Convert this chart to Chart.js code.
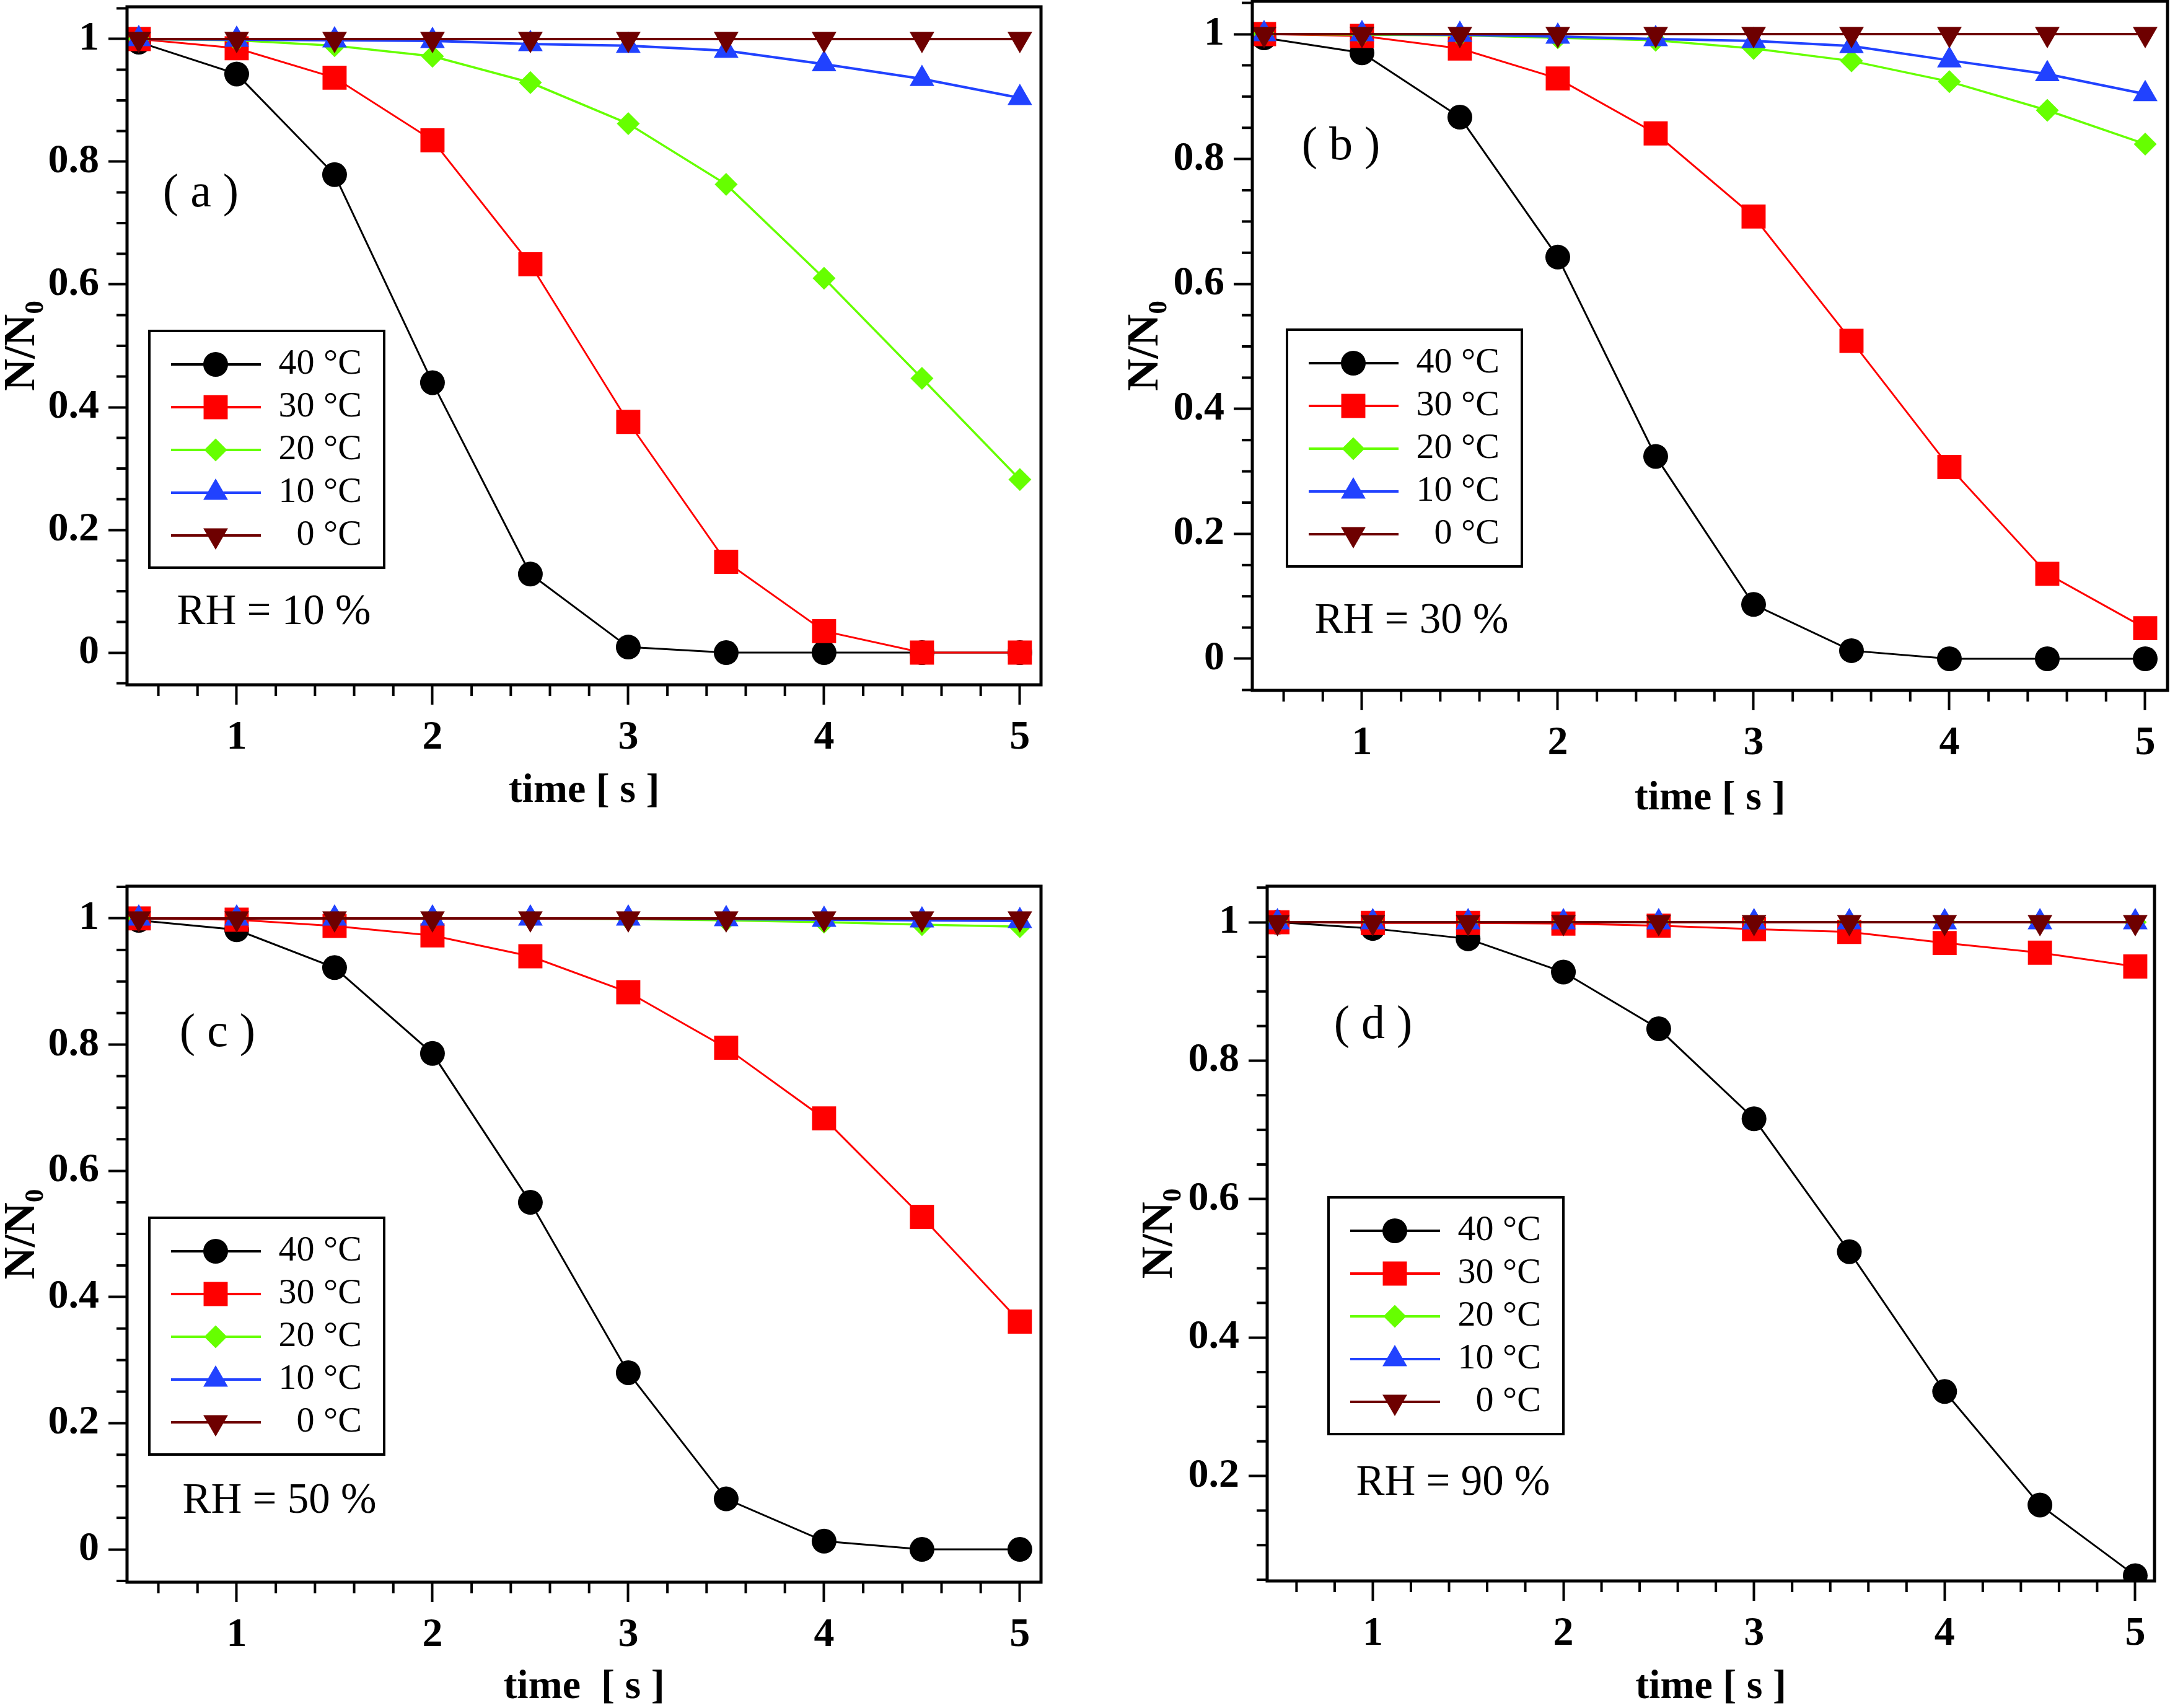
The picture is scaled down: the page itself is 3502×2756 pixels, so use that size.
<!DOCTYPE html>
<html>
<head>
<meta charset="utf-8">
<title>N/N0 vs time</title>
<script src="https://cdn.jsdelivr.net/npm/chart.js@4.4.1/dist/chart.umd.min.js"></script>
<style>
  html, body { margin: 0; padding: 0; background: #fff; }
  body { position: relative; width: 3502px; height: 2756px; overflow: hidden; }
  .panel { position: absolute; }
</style>
</head>
<body>
<div class="panel" style="left:0;top:0;width:1750px;height:1360px"><canvas id="chartA"></canvas></div>
<div class="panel" style="left:1750px;top:0;width:1752px;height:1360px"><canvas id="chartB"></canvas></div>
<div class="panel" style="left:0;top:1380px;width:1750px;height:1376px"><canvas id="chartC"></canvas></div>
<div class="panel" style="left:1750px;top:1380px;width:1752px;height:1376px"><canvas id="chartD"></canvas></div>
<script>
// DATA
const times = [0.5, 1, 1.5, 2, 2.5, 3, 3.5, 4, 4.5, 5];
const seriesLabels = ['40 °C', '30 °C', '20 °C', '10 °C', '0 °C'];
const xTickValues = [1, 2, 3, 4, 5];
const yTickValues = [0, 0.2, 0.4, 0.6, 0.8, 1];
const yTickValuesD = [0.2, 0.4, 0.6, 0.8, 1];

// RH = 10 %
const rh10_t40 = [0.995, 0.943, 0.779, 0.440, 0.128, 0.009, 0, 0, 0, 0];
const rh10_t30 = [1.0, 0.985, 0.937, 0.835, 0.633, 0.376, 0.148, 0.035, 0, 0];
const rh10_t20 = [1.0, 0.998, 0.989, 0.972, 0.929, 0.862, 0.763, 0.610, 0.447, 0.282];
const rh10_t10 = [1.0, 0.999, 0.998, 0.997, 0.992, 0.989, 0.981, 0.959, 0.935, 0.904];
const rh10_t0 = [1, 1, 1, 1, 1, 1, 1, 1, 1, 1];

// RH = 30 %
const rh30_t40 = [0.994, 0.970, 0.867, 0.643, 0.324, 0.087, 0.013, 0, 0, 0];
const rh30_t30 = [1.0, 0.997, 0.977, 0.929, 0.841, 0.708, 0.509, 0.307, 0.136, 0.049];
const rh30_t20 = [1.0, 0.999, 0.998, 0.994, 0.990, 0.977, 0.957, 0.924, 0.878, 0.824];
const rh30_t10 = [1.0, 1.0, 0.999, 0.996, 0.992, 0.989, 0.981, 0.958, 0.936, 0.904];
const rh30_t0 = [1, 1, 1, 1, 1, 1, 1, 1, 1, 1];

// RH = 50 %
const rh50_t40 = [0.997, 0.982, 0.922, 0.786, 0.550, 0.280, 0.080, 0.013, 0, 0];
const rh50_t30 = [1.0, 0.998, 0.988, 0.973, 0.940, 0.883, 0.795, 0.683, 0.527, 0.361];
const rh50_t20 = [1.0, 1.0, 1.0, 1.0, 1.0, 0.999, 0.997, 0.994, 0.990, 0.987];
const rh50_t10 = [1.0, 1.0, 1.0, 1.0, 1.0, 1.0, 0.999, 0.998, 0.997, 0.996];
const rh50_t0 = [1, 1, 1, 1, 1, 1, 1, 1, 1, 1];

// RH = 90 %
const rh90_t40 = [1.0, 0.991, 0.976, 0.928, 0.846, 0.716, 0.524, 0.322, 0.158, 0.056];
const rh90_t30 = [1.0, 0.999, 0.999, 0.998, 0.995, 0.990, 0.986, 0.970, 0.956, 0.936];
const rh90_t20 = [1, 1, 1, 1, 1, 1, 1, 1, 1, 1];
const rh90_t10 = [1, 1, 1, 1, 1, 1, 1, 1, 1, 1];
const rh90_t0 = [1, 1, 1, 1, 1, 1, 1, 1, 1, 1];

Chart.defaults.font.family = "'Liberation Serif', 'Times New Roman', serif";
Chart.defaults.color = '#000';

const seriesStyles = [
    { color: '#000000', pointStyle: 'circle', radius: 20, rotation: 0, lineWidth: 3 },
    { color: '#ff0000', pointStyle: 'rect', radius: 27.5, rotation: 0, lineWidth: 3 },
    { color: '#66ff00', pointStyle: 'rectRot', radius: 18.5, rotation: 0, lineWidth: 3.5 },
    { color: '#2142ff', pointStyle: 'triangle', radius: 23, rotation: 0, lineWidth: 4 },
    { color: '#6e0000', pointStyle: 'triangle', radius: 23, rotation: 180, lineWidth: 4 }
];

// LAYOUT PER PANEL
const panels = [
    { canvas: 'chartA', padTop: 11, padRight: 70, yAxisW: 205, xAxisH: 255,
      xMin: 0.44, xMax: 5.108, yMin: -0.0525, yMax: 1.0525, yTicks: yTickValues,
      series: [rh10_t40, rh10_t30, rh10_t20, rh10_t10, rh10_t0],
      tag: '( a )', rh: 'RH = 10 %', xTitle: 'time [ s ]', xTitlePad: 50, yTitlePad: 0,
      legendAt: [36, 523], tagAt: [119, 302], rhAt: [237, 978] },
    { canvas: 'chartB', padTop: 2, padRight: 4, yAxisW: 271, xAxisH: 246,
      xMin: 0.44, xMax: 5.114, yMin: -0.0506, yMax: 1.0526, yTicks: yTickValues,
      series: [rh30_t40, rh30_t30, rh30_t20, rh30_t10, rh30_t0],
      tag: '( b )', rh: 'RH = 30 %', xTitle: 'time [ s ]', xTitlePad: 38, yTitlePad: 63,
      legendAt: [56, 530], tagAt: [143, 235], rhAt: [257, 1001] },
    { canvas: 'chartC', padTop: 50, padRight: 70, yAxisW: 205, xAxisH: 203,
      xMin: 0.44, xMax: 5.108, yMin: -0.052, yMax: 1.051, yTicks: yTickValues,
      series: [rh50_t40, rh50_t30, rh50_t20, rh50_t10, rh50_t0],
      tag: '( c )', rh: 'RH = 50 %', xTitle: 'time  [ s ]', xTitlePad: 0, yTitlePad: 0,
      legendAt: [36, 535], tagAt: [146, 238], rhAt: [246, 993] },
    { canvas: 'chartD', padTop: 50, padRight: 25, yAxisW: 295, xAxisH: 205,
      xMin: 0.446, xMax: 5.101, yMin: 0.0483, yMax: 1.052, yTicks: yTickValuesD,
      series: [rh90_t40, rh90_t30, rh90_t20, rh90_t10, rh90_t0],
      tag: '( d )', rh: 'RH = 90 %', xTitle: 'time [ s ]', xTitlePad: 0, yTitlePad: 86,
      legendAt: [99, 502], tagAt: [171, 225], rhAt: [300, 964] }
];

function drawMarker(ctx, st, x, y) {
    ctx.fillStyle = st.color;
    Chart.helpers.drawPoint(ctx, {
        pointStyle: st.pointStyle, radius: st.radius, rotation: st.rotation, borderWidth: 0
    }, x, y);
}

// minor ticks, frame, legend and text labels
function makeDecor(p) {
    return {
        id: 'decor_' + p.canvas,
        afterDraw(chart) {
            const ctx = chart.ctx, a = chart.chartArea;
            const xs = chart.scales.x, ys = chart.scales.y;
            ctx.save();
            ctx.strokeStyle = '#000';
            ctx.lineWidth = 4;
            for (let k = Math.ceil(ys.min / 0.05 - 1e-6); k * 0.05 <= ys.max + 1e-9; k++) {
                if (k % 4 === 0) continue;
                const py = ys.getPixelForValue(k * 0.05);
                ctx.beginPath(); ctx.moveTo(a.left - 17, py); ctx.lineTo(a.left, py); ctx.stroke();
            }
            for (let k = Math.ceil(xs.min / 0.2 - 1e-6); k * 0.2 <= xs.max + 1e-9; k++) {
                if (k % 5 === 0) continue;
                const px = xs.getPixelForValue(k * 0.2);
                ctx.beginPath(); ctx.moveTo(px, a.bottom); ctx.lineTo(px, a.bottom + 18); ctx.stroke();
            }
            ctx.lineWidth = 5;
            ctx.strokeRect(a.left, a.top, a.right - a.left, a.bottom - a.top);

            ctx.fillStyle = '#000';
            ctx.textAlign = 'center';
            ctx.textBaseline = 'middle';
            ctx.font = "76px 'Liberation Serif'";
            ctx.fillText(p.tag, a.left + p.tagAt[0], a.top + p.tagAt[1]);
            ctx.font = "69px 'Liberation Serif'";
            ctx.fillText(p.rh, a.left + p.rhAt[0], a.top + p.rhAt[1]);

            // legend
            const lx = a.left + p.legendAt[0], ly = a.top + p.legendAt[1];
            ctx.fillStyle = '#fff';
            ctx.fillRect(lx, ly, 379, 382);
            ctx.strokeStyle = '#000';
            ctx.lineWidth = 4;
            ctx.strokeRect(lx, ly, 379, 382);
            ctx.font = "58px 'Liberation Serif'";
            ctx.textAlign = 'right';
            seriesStyles.forEach((st, i) => {
                const ry = ly + 54 + i * 69;
                ctx.strokeStyle = st.color;
                ctx.lineWidth = 4;
                ctx.beginPath(); ctx.moveTo(lx + 35, ry); ctx.lineTo(lx + 180, ry); ctx.stroke();
                drawMarker(ctx, st, lx + 107, ry);
                ctx.fillStyle = '#000';
                ctx.fillText(seriesLabels[i], lx + 343, ry);
            });
            ctx.restore();
        }
    };
}

function makeDatasets(seriesList) {
    return seriesList.map((vals, i) => {
        const st = seriesStyles[i];
        return {
            label: seriesLabels[i],
            data: times.map((t, j) => ({ x: t, y: vals[j] })),
            borderColor: st.color,
            backgroundColor: st.color,
            borderWidth: st.lineWidth,
            pointStyle: st.pointStyle,
            pointRadius: st.radius,
            pointHoverRadius: st.radius,
            pointRotation: st.rotation,
            pointBackgroundColor: st.color,
            pointBorderColor: st.color,
            pointBorderWidth: 0,
            tension: 0,
            order: seriesList.length - 1 - i
        };
    });
}

function zeroPad(s) {
    s.paddingLeft = 0; s.paddingRight = 0; s.paddingTop = 0; s.paddingBottom = 0;
}

panels.forEach(p => {
    new Chart(document.getElementById(p.canvas), {
        type: 'line',
        data: { datasets: makeDatasets(p.series) },
        options: {
            responsive: true,
            maintainAspectRatio: false,
            animation: false,
            devicePixelRatio: 1,
            layout: { autoPadding: false, padding: { left: 0, top: p.padTop, right: p.padRight, bottom: 0 } },
            plugins: { legend: { display: false }, tooltip: { enabled: false } },
            scales: {
                x: {
                    type: 'linear', position: 'bottom', min: p.xMin, max: p.xMax,
                    afterBuildTicks: s => { s.ticks = xTickValues.map(v => ({ value: v })); },
                    afterFit: s => { s.height = p.xAxisH; zeroPad(s); },
                    ticks: { autoSkip: false, maxRotation: 0, padding: 14, color: '#000',
                             font: { size: 66, weight: 'bold' }, callback: v => String(v) },
                    grid: { drawOnChartArea: false, drawTicks: true, tickLength: 32, tickWidth: 4, tickColor: '#000' },
                    border: { display: false },
                    title: { display: true, text: p.xTitle, color: '#000',
                             font: { size: 66, weight: 'bold', lineHeight: 1 },
                             padding: { top: 0, bottom: p.xTitlePad } }
                },
                y: {
                    type: 'linear', position: 'left', min: p.yMin, max: p.yMax,
                    afterBuildTicks: s => { s.ticks = p.yTicks.map(v => ({ value: v })); },
                    afterFit: s => { s.width = p.yAxisW; zeroPad(s); },
                    ticks: { autoSkip: false, padding: 15, color: '#000',
                             font: { size: 66, weight: 'bold' }, callback: v => String(Number(v.toFixed(2))) },
                    grid: { drawOnChartArea: false, drawTicks: true, tickLength: 30, tickWidth: 4, tickColor: '#000' },
                    border: { display: false },
                    title: { display: true, text: 'N/N₀', color: '#000',
                             font: { size: 72, weight: 'bold', lineHeight: 1 },
                             padding: { top: p.yTitlePad, bottom: 0 } }
                }
            }
        },
        plugins: [makeDecor(p)]
    });
});
</script>
</body>
</html>
